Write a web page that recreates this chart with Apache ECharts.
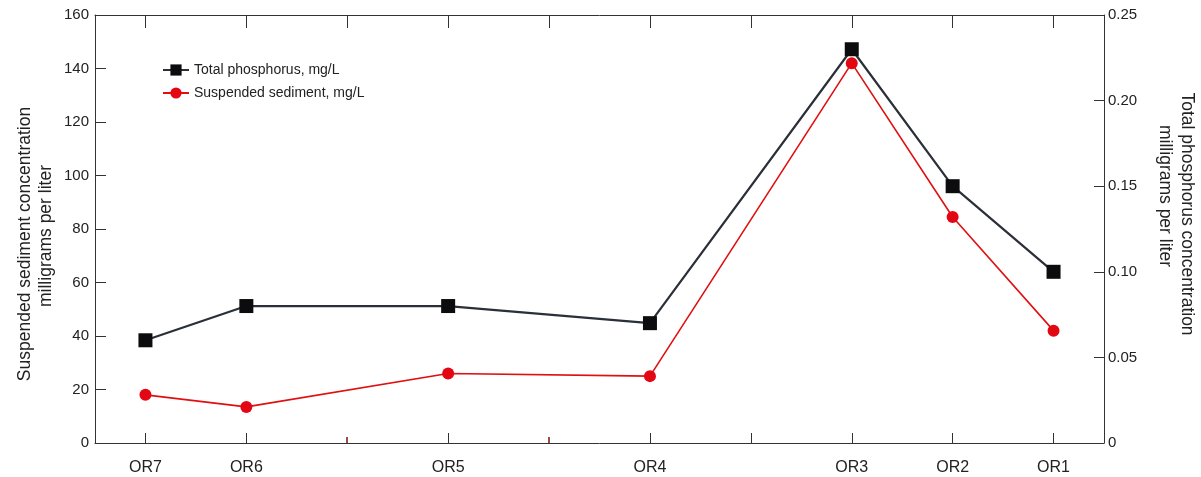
<!DOCTYPE html>
<html>
<head>
<meta charset="utf-8">
<script src="https://cdn.jsdelivr.net/npm/echarts@6/dist/echarts.min.js"></script>
<style>
  html, body { margin: 0; padding: 0; background: #fff; }
  #chart { width: 1201px; height: 477px; }
</style>
</head>
<body>
<div id="chart"></div>
<script>
// Sampling stations, downstream order; blank slots keep the river-distance spacing
const stations = ['OR7', 'OR6', '', 'OR5', '', 'OR4', '', 'OR3', 'OR2', 'OR1'];

// Total phosphorus, mg/L (right axis)
const phosphorus = [0.06, 0.08, null, 0.08, null, 0.07, null, 0.23, 0.15, 0.10];

// Suspended sediment, mg/L (left axis)
const sediment = [18, 13.5, null, 26, null, 25, null, 142, 84.5, 42];

// Axis tick values
const sedimentTicks = [0, 20, 40, 60, 80, 100, 120, 140, 160];
const phosphorusTicks = [0, 0.05, 0.10, 0.15, 0.20, 0.25];

// Axis titles, one entry per line
const leftTitle = ['Suspended sediment concentration', 'milligrams per liter'];
const rightTitle = ['Total phosphorus concentration', 'milligrams per liter'];

const FONT = 'Liberation Sans, Arial, sans-serif';
const AXIS = '#333';
const TEXT = '#222';
const minorSlots = [2, 4];

function titleLine(text, x, y, rot) {
  return {
    type: 'text', x: x, y: y, rotation: rot, silent: true,
    style: {
      text: text, fill: TEXT, font: '17.5px ' + FONT,
      textAlign: 'center', textVerticalAlign: 'middle'
    }
  };
}

const chart = echarts.init(document.getElementById('chart'));
chart.setOption({
  animation: false,
  textStyle: { fontFamily: FONT },
  grid: { left: 95, right: 97, top: 15, bottom: 34, containLabel: false, outerBoundsMode: 'none' },
  legend: {
    orient: 'vertical',
    left: 157,
    top: 58,
    itemWidth: 26,
    itemHeight: 14,
    itemGap: 9,
    textStyle: { fontFamily: FONT, fontSize: 14, color: TEXT },
    data: ['Total phosphorus, mg/L', 'Suspended sediment, mg/L']
  },
  graphic: [
    titleLine(leftTitle[0], 25, 244, Math.PI / 2),
    titleLine(leftTitle[1], 46, 236, Math.PI / 2),
    titleLine(rightTitle[0], 1187, 214, -Math.PI / 2),
    titleLine(rightTitle[1], 1165, 196, -Math.PI / 2)
  ],
  xAxis: [
    {
      type: 'category',
      data: stations,
      boundaryGap: true,
      position: 'bottom',
      axisLine: { show: true, lineStyle: { color: AXIS, width: 1 } },
      axisTick: {
        show: true, inside: true, length: 10, alignWithLabel: true,
        interval: (i) => minorSlots.indexOf(i) < 0,
        lineStyle: { color: AXIS }
      },
      axisLabel: { margin: 17, fontSize: 16, color: TEXT, fontFamily: FONT, interval: 0 }
    },
    {
      // short marks at the two unlabelled slots
      type: 'category',
      data: stations,
      boundaryGap: true,
      position: 'bottom',
      axisLine: { show: false },
      axisTick: {
        show: true, inside: true, length: 6, alignWithLabel: true,
        interval: (i) => minorSlots.indexOf(i) >= 0,
        lineStyle: { color: '#7a1010', width: 1.5 }
      },
      axisLabel: { show: false }
    },
    {
      type: 'category',
      data: stations,
      boundaryGap: true,
      position: 'top',
      axisLine: { show: true, lineStyle: { color: AXIS, width: 1 } },
      axisTick: { show: true, inside: true, length: 13, alignWithLabel: true, interval: 0, lineStyle: { color: AXIS } },
      axisLabel: { show: false }
    }
  ],
  yAxis: [
    {
      type: 'value',
      min: sedimentTicks[0],
      max: sedimentTicks[sedimentTicks.length - 1],
      interval: 20,
      position: 'left',
      axisLine: { show: true, lineStyle: { color: AXIS, width: 1 } },
      axisTick: { show: true, inside: true, length: 11, lineStyle: { color: AXIS } },
      axisLabel: { fontSize: 15, color: TEXT, margin: 6, fontFamily: FONT },
      splitLine: { show: false }
    },
    {
      type: 'value',
      min: phosphorusTicks[0],
      max: phosphorusTicks[phosphorusTicks.length - 1],
      interval: 0.05,
      position: 'right',
      axisLine: { show: true, lineStyle: { color: AXIS, width: 1 } },
      axisTick: { show: true, inside: true, length: 10, lineStyle: { color: AXIS } },
      axisLabel: {
        fontSize: 15, color: TEXT, margin: 4, fontFamily: FONT,
        formatter: (v) => (v === 0 ? '0' : v.toFixed(2))
      },
      splitLine: { show: false }
    }
  ],
  series: [
    {
      name: 'Total phosphorus, mg/L',
      type: 'line',
      xAxisIndex: 0,
      yAxisIndex: 1,
      data: phosphorus,
      connectNulls: true,
      symbol: 'rect',
      symbolSize: 14,
      lineStyle: { color: '#2a2f38', width: 2.2 },
      itemStyle: { color: '#0c0c0e' },
      z: 3
    },
    {
      name: 'Suspended sediment, mg/L',
      type: 'line',
      xAxisIndex: 0,
      yAxisIndex: 0,
      data: sediment,
      connectNulls: true,
      symbol: 'circle',
      symbolSize: 12,
      lineStyle: { color: '#e01010', width: 1.6 },
      itemStyle: { color: '#e30613' },
      z: 4
    }
  ]
});
</script>
</body>
</html>
